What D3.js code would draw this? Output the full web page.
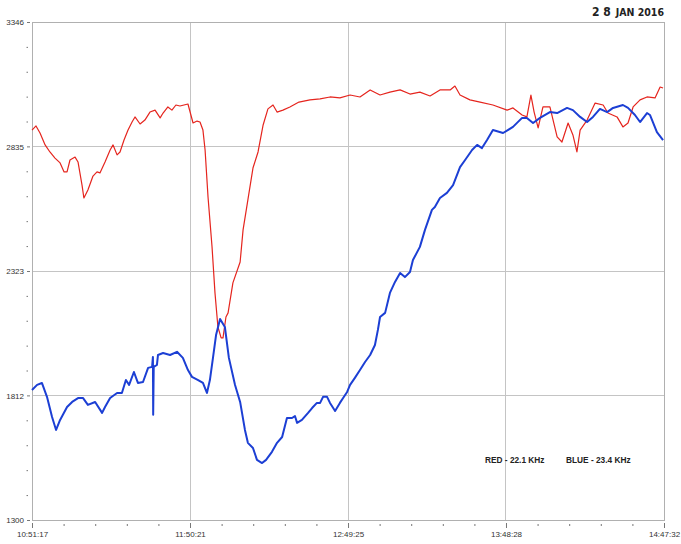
<!DOCTYPE html>
<html>
<head>
<meta charset="utf-8">
<script src="https://cdn.jsdelivr.net/npm/d3@7/dist/d3.min.js"></script>
<style>
  html, body { margin: 0; padding: 0; background: #fff; }
  svg { display: block; }
</style>
</head>
<body>
<svg id="chart" width="681" height="544"></svg>
<script>
// VLF receiver log, 28 Jan 2016: signal level of two transmitters.
// Times are minutes after the first sample (10:51:17).
const recordDate = "2016-01-28";
const startClock = "10:51:17";
const endClock = "14:47:32";

const xTickLabels = ["10:51:17", "11:50:21", "12:49:25", "13:48:28", "14:47:32"];
const yTickValues = [1300, 1812, 2323, 2835, 3346];

const redLabel = "RED - 22.1 KHz";
const blueLabel = "BLUE - 23.4 KHz";

const redMinutes = [0, 1.5, 3.0, 4.9, 6.7, 8.6, 10.5, 12.0, 13.1, 14.2, 16.1, 17.2, 18.7, 19.4, 20.9, 22.8, 24.3, 25.4, 27.3, 29.2,
  30.3, 31.8, 32.9, 34.4, 35.9, 37.4, 38.5, 40.4, 42.2, 44.1, 46.0, 47.9, 49.0, 50.8, 52.3, 53.8, 55.3, 58.3, 60.2, 61.7,
  62.8, 63.9, 64.7, 65.8, 67.3, 68.4, 69.5, 70.7, 71.4, 72.5, 73.3, 75.1, 77.8, 78.9, 80.7, 82.6, 84.5, 86.4, 88.2, 90.1,
  91.6, 93.8, 96.4, 99.8, 103.9, 107.7, 111.4, 115.1, 118.9, 122.6, 126.4, 130.1, 133.8, 137.6, 141.3, 145.0, 148.8, 152.5, 156.3, 158.1,
  160.0, 163.7, 167.5, 172.3, 177.6, 179.8, 183.2, 185.0, 186.5, 187.7, 189.2, 191.0, 193.6, 196.3, 198.1, 200.4, 202.2, 203.7, 204.9, 207.5,
  210.5, 213.5, 215.3, 218.7, 220.9, 222.8, 224.7, 227.3, 229.9, 232.9, 234.8, 235.9];
const redValues = [2902, 2919, 2890, 2841, 2812, 2787, 2767, 2730, 2730, 2779, 2791, 2771, 2676, 2623, 2656, 2713, 2730, 2726, 2771, 2820,
  2841, 2800, 2812, 2861, 2902, 2935, 2956, 2927, 2943, 2976, 2984, 2952, 2972, 2997, 2984, 3005, 3001, 3009, 2931, 2939,
  2935, 2902, 2820, 2627, 2422, 2233, 2093, 2048, 2048, 2134, 2151, 2274, 2360, 2492, 2615, 2746, 2812, 2923, 2989, 3005,
  2976, 2984, 2997, 3017, 3026, 3030, 3038, 3034, 3046, 3038, 3067, 3046, 3058, 3067, 3050, 3058, 3042, 3067, 3067, 3083,
  3046, 3026, 3017, 3005, 2984, 2993, 2964, 2956, 3046, 2976, 2911, 2997, 2997, 2874, 2853, 2931, 2882, 2812, 2902, 2943,
  3013, 3005, 2972, 2956, 2915, 2931, 2997, 3026, 3038, 3034, 3079, 3075];

const blueMinutes = [0, 1.9, 3.7, 5.6, 7.5, 9.0, 10.5, 13.1, 15.0, 17.2, 19.1, 20.9, 23.6, 26.2, 27.3, 29.2, 31.8, 33.6, 35.1, 36.3,
  38.1, 39.6, 41.5, 43.4, 44.9, 45.2, 45.3, 45.5, 46.7, 47.1, 49.0, 51.6, 54.2, 56.4, 58.3, 59.8, 62.1, 63.9, 65.4, 66.5,
  67.7, 68.8, 70.3, 72.1, 73.6, 75.9, 77.8, 79.6, 80.7, 82.6, 84.1, 86.0, 87.5, 89.7, 91.6, 93.5, 95.3, 97.2, 98.3, 99.1,
  100.9, 103.2, 104.7, 106.5, 107.7, 108.8, 110.3, 111.4, 113.3, 115.1, 116.3, 117.8, 118.9, 120.7, 122.6, 124.5, 126.4, 128.2, 129.3, 130.1,
  132.0, 133.8, 135.7, 137.6, 139.4, 141.3, 142.4, 145.0, 146.9, 149.5, 150.6, 152.5, 155.1, 157.4, 160.0, 161.9, 164.5, 166.4, 168.2, 170.1,
  172.3, 176.1, 179.8, 183.2, 185.0, 187.3, 189.9, 193.6, 196.3, 200.0, 202.2, 204.9, 207.5, 209.7, 212.3, 215.0, 217.2, 220.9, 222.8, 225.4,
  227.3, 229.9, 231.0, 233.6, 235.9];
const blueValues = [1834, 1855, 1863, 1806, 1723, 1670, 1711, 1764, 1785, 1801, 1801, 1773, 1785, 1740, 1764, 1801, 1822, 1822, 1875, 1855,
  1908, 1863, 1867, 1925, 1929, 1970, 1732, 1929, 1937, 1978, 1986, 1978, 1991, 1966, 1916, 1888, 1875, 1863, 1822, 1875,
  1970, 2060, 2126, 2093, 1966, 1855, 1785, 1670, 1617, 1596, 1547, 1534, 1547, 1580, 1617, 1641, 1719, 1719, 1727, 1699,
  1711, 1740, 1760, 1781, 1781, 1806, 1806, 1781, 1748, 1781, 1801, 1826, 1855, 1884, 1916, 1949, 1978, 2019, 2081, 2134,
  2151, 2233, 2278, 2315, 2298, 2319, 2368, 2422, 2492, 2574, 2586, 2623, 2644, 2676, 2750, 2779, 2820, 2841, 2828, 2861,
  2902, 2890, 2915, 2952, 2952, 2931, 2952, 2976, 2972, 2993, 2984, 2956, 2935, 2956, 2989, 2976, 2993, 3005, 2993, 2964,
  2935, 2972, 2964, 2894, 2861];

const parseClock = d3.timeParse("%Y-%m-%d %H:%M:%S");
const t0 = parseClock(recordDate + " " + startClock);
const t1 = parseClock(recordDate + " " + endClock);
const atMinute = m => new Date(t0.getTime() + m * 60000);

const svg = d3.select("#chart");
const plot = { left: 32, right: 664, top: 22, bottom: 520 };

const x = d3.scaleTime().domain([t0, t1]).range([plot.left, plot.right]);
const y = d3.scaleLinear().domain([yTickValues[0], yTickValues[yTickValues.length - 1]]).range([plot.bottom, plot.top]);

const xMajor = xTickLabels.map(s => parseClock(recordDate + " " + s));
const xMinor = [];
for (let i = 0; i < xMajor.length - 1; i++) {
  const a = xMajor[i].getTime(), b = xMajor[i + 1].getTime();
  for (let k = 1; k < 5; k++) xMinor.push(new Date(a + (b - a) * k / 5));
}
const yMinor = [];
for (let i = 0; i < yTickValues.length - 1; i++) {
  const a = yTickValues[i], b = yTickValues[i + 1];
  for (let k = 1; k < 5; k++) yMinor.push(a + (b - a) * k / 5);
}

// grid
const grid = svg.append("g").attr("stroke", "#c4c4c4").attr("stroke-width", 1).attr("shape-rendering", "crispEdges");
grid.selectAll("line.gx").data(xMajor.slice(1, -1)).join("line")
  .attr("x1", d => x(d)).attr("x2", d => x(d)).attr("y1", plot.top).attr("y2", plot.bottom);
grid.selectAll("line.gy").data(yTickValues.slice(1, -1)).join("line")
  .attr("x1", plot.left).attr("x2", plot.right).attr("y1", d => y(d)).attr("y2", d => y(d));

// frame
svg.append("rect")
  .attr("x", plot.left).attr("y", plot.top)
  .attr("width", plot.right - plot.left).attr("height", plot.bottom - plot.top)
  .attr("fill", "none").attr("stroke", "#b0b0b0").attr("shape-rendering", "crispEdges");

// axes
const font = "'Liberation Sans', Arial, sans-serif";
const xAxis = svg.append("g").attr("transform", `translate(0,${plot.bottom + 3})`)
  .call(d3.axisBottom(x).tickValues(xMajor).tickSize(5).tickPadding(3)
    .tickFormat((d, i) => xTickLabels[i]));
const xAxisMinor = svg.append("g").attr("transform", `translate(0,${plot.bottom + 4})`)
  .call(d3.axisBottom(x).tickValues(xMinor).tickSize(2).tickFormat(""));
const yAxis = svg.append("g").attr("transform", `translate(${plot.left - 2},0)`)
  .call(d3.axisLeft(y).tickValues(yTickValues).tickSize(3).tickPadding(3).tickFormat(d3.format("d")));
const yAxisMinor = svg.append("g").attr("transform", `translate(${plot.left - 4},0)`)
  .call(d3.axisLeft(y).tickValues(yMinor).tickSize(1.5).tickFormat(""));

[xAxis, xAxisMinor, yAxis, yAxisMinor].forEach(g => {
  g.select(".domain").remove();
  g.selectAll(".tick line").attr("stroke", "#777");
  g.selectAll("text").attr("font-family", font).attr("font-size", 8).attr("fill", "#333");
});
yAxis.selectAll("text").attr("dy", "0.35em");

// series
const line = d3.line().x(d => x(atMinute(d[0]))).y(d => y(d[1]));
svg.append("path")
  .datum(redMinutes.map((m, i) => [m, redValues[i]]))
  .attr("d", line).attr("fill", "none")
  .attr("stroke", "#e5251e").attr("stroke-width", 1.2).attr("stroke-linejoin", "round");
svg.append("path")
  .datum(blueMinutes.map((m, i) => [m, blueValues[i]]))
  .attr("d", line).attr("fill", "none")
  .attr("stroke", "#1c3fd4").attr("stroke-width", 2).attr("stroke-linejoin", "round");

// legend
const legend = svg.append("g").attr("font-family", font).attr("font-size", 8.3)
  .attr("font-weight", "bold").attr("fill", "#222");
legend.append("text").attr("x", 485).attr("y", 463).text(redLabel);
legend.append("text").attr("x", 566).attr("y", 463).text(blueLabel);

// date stamp
const stamp = svg.append("text").attr("x", 664).attr("y", 16).attr("text-anchor", "end")
  .attr("font-family", "'DejaVu Sans', sans-serif").attr("font-weight", "bold")
  .attr("font-stretch", "condensed").attr("fill", "#222");
stamp.append("tspan").attr("font-size", 12).text("2 8");
stamp.append("tspan").attr("font-size", 10.5).attr("dx", 5).text("JAN 2016");
</script>
</body>
</html>
